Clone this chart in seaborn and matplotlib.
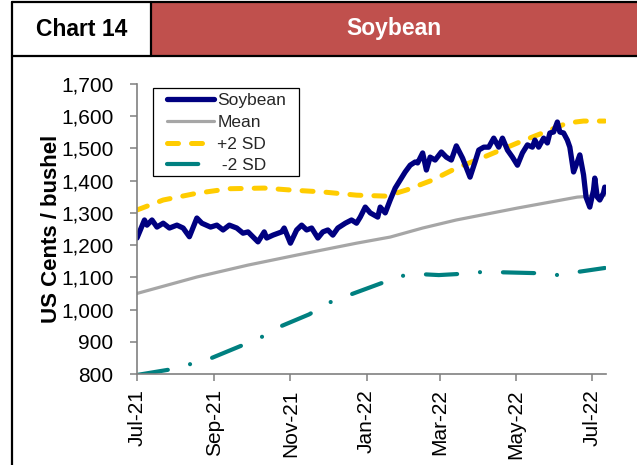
import numpy as np
import pandas as pd
import matplotlib
matplotlib.use("Agg")
import matplotlib.pyplot as plt
import matplotlib.dates as mdates
from matplotlib.lines import Line2D
from matplotlib.patches import Rectangle
from matplotlib.ticker import FuncFormatter
import seaborn as sns

# ---- data ----
soy_dates = [
    "2021-07-01", "2021-07-07", "2021-07-09", "2021-07-13", "2021-07-17", "2021-07-22", "2021-07-27",
    "2021-08-02", "2021-08-07", "2021-08-12", "2021-08-18", "2021-08-22", "2021-08-29",
    "2021-09-03", "2021-09-08", "2021-09-13", "2021-09-19", "2021-09-24", "2021-09-28",
    "2021-10-06", "2021-10-11", "2021-10-13", "2021-10-18", "2021-10-25", "2021-10-27",
    "2021-11-01", "2021-11-06", "2021-11-10", "2021-11-14", "2021-11-18", "2021-11-23", "2021-11-27",
    "2021-12-01", "2021-12-05", "2021-12-09", "2021-12-15", "2021-12-20", "2021-12-24", "2021-12-27", "2021-12-31",
    "2022-01-04", "2022-01-10", "2022-01-12", "2022-01-16", "2022-01-20", "2022-01-24", "2022-01-28",
    "2022-02-01", "2022-02-05", "2022-02-09", "2022-02-11", "2022-02-15", "2022-02-18", "2022-02-21", "2022-02-25",
    "2022-03-02", "2022-03-06", "2022-03-10", "2022-03-14", "2022-03-19", "2022-03-25", "2022-03-29",
    "2022-04-01", "2022-04-05", "2022-04-09", "2022-04-13", "2022-04-17", "2022-04-20", "2022-04-24", "2022-04-28",
    "2022-05-02", "2022-05-06", "2022-05-10", "2022-05-14", "2022-05-16", "2022-05-19", "2022-05-23", "2022-05-26",
    "2022-05-28", "2022-05-31",
    "2022-06-03", "2022-06-05", "2022-06-08", "2022-06-11", "2022-06-13", "2022-06-16", "2022-06-19", "2022-06-21",
    "2022-06-24", "2022-06-26", "2022-06-29",
    "2022-07-02", "2022-07-03", "2022-07-05", "2022-07-07", "2022-07-10", "2022-07-11",
]
soy_vals = [
    1222, 1278, 1262, 1278, 1256, 1268, 1253,
    1262, 1253, 1226, 1284, 1268, 1256,
    1262, 1247, 1262, 1253, 1237, 1241,
    1210, 1241, 1222, 1231, 1241, 1253,
    1206, 1247, 1262, 1247, 1253, 1222, 1241,
    1247, 1231, 1253, 1268, 1278, 1268, 1287, 1318,
    1300, 1287, 1318, 1300, 1340, 1377, 1402,
    1427, 1448, 1458, 1455, 1486, 1433, 1473, 1464,
    1489, 1473, 1464, 1508, 1470, 1411, 1458,
    1495, 1504, 1504, 1532, 1504, 1532, 1495, 1473,
    1448, 1486, 1511, 1504, 1526, 1504, 1532, 1517, 1548, 1551,
    1582, 1551, 1548, 1526, 1504, 1427, 1458, 1480, 1418, 1349, 1318,
    1371, 1408, 1349, 1340, 1362, 1380,
]

mean_dates = ["2021-07-01", "2021-08-18", "2021-09-28", "2021-11-06", "2021-12-24", "2022-01-20",
              "2022-02-15", "2022-03-14", "2022-05-02", "2022-06-19", "2022-07-11"]
mean_vals = [1050, 1101, 1138, 1169, 1206, 1225, 1253, 1278, 1315, 1349, 1355]

plus2_dates = ["2021-07-01", "2021-07-22", "2021-08-18", "2021-09-13", "2021-10-11", "2021-11-01",
               "2021-11-27", "2021-12-24", "2022-01-17", "2022-02-02", "2022-02-23", "2022-03-14",
               "2022-04-05", "2022-05-02", "2022-05-28", "2022-06-11", "2022-06-24", "2022-07-11"]
plus2_vals = [1309, 1340, 1361, 1375, 1377, 1371, 1365, 1355, 1352, 1371, 1402, 1439,
              1473, 1517, 1557, 1579, 1585, 1585]

minus2_dates = ["2021-07-01", "2021-07-29", "2021-08-13", "2021-08-30", "2021-09-24", "2021-10-09",
                "2021-10-23", "2021-11-16", "2021-12-01", "2021-12-16", "2022-01-13", "2022-01-28",
                "2022-02-13", "2022-02-28", "2022-03-14", "2022-04-01", "2022-04-16", "2022-05-17",
                "2022-06-02", "2022-06-18", "2022-07-11"]
minus2_vals = [797, 815, 831, 850, 890, 915, 946, 985, 1020, 1042, 1082, 1104,
               1110, 1107, 1110, 1116, 1116, 1113, 1107, 1116, 1129]

COLORS = {
    "soy": "#000080",
    "mean": "#A6A6A6",
    "plus": "#FFCC00",
    "minus": "#008080",
    "header": "#C0504D",
    "spine": "#808080",
}

sns.set_theme(style="white")
plt.rcParams["font.family"] = ["Liberation Sans", "DejaVu Sans"]

W, H = 637, 465
fig = plt.figure(figsize=(W / 100, H / 100), dpi=100)
ax = fig.add_axes([137 / W, 1 - 374 / H, (606 - 137) / W, (374 - 84) / H])


def frame(name, dates, vals):
    return pd.DataFrame({"date": pd.to_datetime(dates), "value": vals, "series": name})


soy = frame("Soybean", soy_dates, soy_vals)
mean = frame("Mean", mean_dates, mean_vals)
plus2 = frame("+2 SD", plus2_dates, plus2_vals)
minus2 = frame(" -2 SD", minus2_dates, minus2_vals)

sns.lineplot(data=mean, x="date", y="value", color=COLORS["mean"], linewidth=2.3,
             errorbar=None, ax=ax, label="Mean")
sns.lineplot(data=plus2, x="date", y="value", color=COLORS["plus"], linewidth=3.6,
             errorbar=None, ax=ax, label="+2 SD")
sns.lineplot(data=minus2, x="date", y="value", color=COLORS["minus"], linewidth=3.0,
             errorbar=None, ax=ax, label=" -2 SD")
sns.lineplot(data=soy, x="date", y="value", color=COLORS["soy"], linewidth=3.8,
             errorbar=None, ax=ax, label="Soybean")

line_mean, line_plus, line_minus, line_soy = ax.lines[:4]
line_plus.set_dashes((2.2, 2.6))
line_plus.set_dash_capstyle("round")
line_minus.set_dashes((7.5, 5.5, 0.01, 5.5))
line_minus.set_dash_capstyle("round")
line_soy.set_solid_joinstyle("round")
line_soy.set_solid_capstyle("round")

ax.set_ylim(800, 1700)
ax.set_xlim(pd.Timestamp("2021-07-01"), pd.Timestamp("2022-07-12"))
ax.set_yticks(np.arange(800, 1701, 100))
ax.yaxis.set_major_formatter(FuncFormatter(lambda v, p: f"{int(v):,}"))
ax.xaxis.set_major_locator(mdates.MonthLocator(bymonth=[1, 3, 5, 7, 9, 11]))
ax.xaxis.set_major_formatter(mdates.DateFormatter("%b-%y"))

for side in ["top", "right"]:
    ax.spines[side].set_visible(False)
for side in ["left", "bottom"]:
    ax.spines[side].set_color(COLORS["spine"])
    ax.spines[side].set_linewidth(1.2)

ax.tick_params(axis="y", direction="out", length=5, width=1.1, color=COLORS["spine"],
               labelsize=15, pad=12, left=True, labelcolor="black")
ax.tick_params(axis="x", direction="out", length=5, width=1.1, color=COLORS["spine"],
               labelsize=15, pad=6, bottom=True, labelrotation=90, labelcolor="black")

ax.set_xlabel("")
ax.set_ylabel("US Cents / bushel", fontsize=16, fontweight="bold", color="black")
ax.yaxis.set_label_coords(-0.16, 0.5)

# legend: box drawn separately so the inner padding can match
legend_box = Rectangle((153 / W, 1 - 176 / H), (299 - 153) / W, (176 - 88) / H,
                       transform=fig.transFigure, facecolor="white",
                       edgecolor="black", linewidth=0.9, zorder=5, clip_on=False)
ax.add_artist(legend_box)
handles = [line_soy, line_mean, line_plus, line_minus]
leg = ax.legend(handles=handles, labels=["Soybean", "Mean", "+2 SD", " -2 SD"],
                loc="upper left", bbox_to_anchor=(167 / W, 1 - 93 / H),
                bbox_transform=fig.transFigure, fontsize=12.5, frameon=False,
                handlelength=2.7, handletextpad=0.2, labelspacing=0.38, borderpad=0,
                borderaxespad=0)
leg.set_zorder(6)

# ---- header panel and outer frame ----
x_left, x_div = 12 / W, 151 / W
y_top, y_hdr = 1 - 2 / H, 1 - 56 / H
fig.patches.append(Rectangle((x_div, y_hdr), 1 - x_div, y_top - y_hdr,
                             transform=fig.transFigure, facecolor=COLORS["header"],
                             edgecolor="none", zorder=0))
for xs, ys in [([x_left, 1], [y_top, y_top]), ([x_left, 1], [y_hdr, y_hdr]),
               ([x_left, x_left], [0, y_top]), ([x_div, x_div], [y_hdr, y_top])]:
    fig.add_artist(Line2D(xs, ys, transform=fig.transFigure, color="black", linewidth=1.6))

fig.text((x_left + x_div) / 2, (y_top + y_hdr) / 2, "Chart 14", ha="center", va="center",
         fontsize=16.5, fontweight="bold", color="black")
fig.text((x_div + 1) / 2, (y_top + y_hdr) / 2, "Soybean", ha="center", va="center",
         fontsize=16.5, fontweight="bold", color="white")

fig.savefig("out.png", dpi=100)
